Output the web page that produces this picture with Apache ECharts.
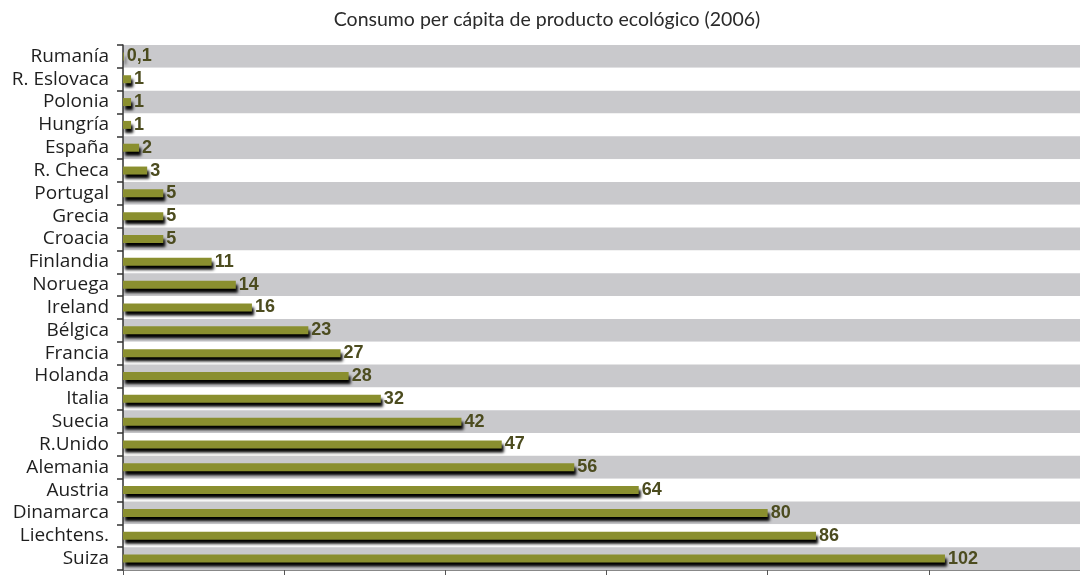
<!DOCTYPE html>
<html>
<head>
<meta charset="utf-8">
<script src="https://cdn.jsdelivr.net/npm/echarts@6/dist/echarts.min.js"></script>
<style>
  html, body { margin: 0; padding: 0; background: #fff; overflow: hidden; }
  /* the plot runs past the right edge so the 120 tick falls off-screen */
  #chart { width: 1090px; height: 575px; }
</style>
</head>
<body>
<div id="chart"></div>
<script>
const countries = [
  'Rumanía', 'R. Eslovaca', 'Polonia', 'Hungría', 'España', 'R. Checa',
  'Portugal', 'Grecia', 'Croacia', 'Finlandia', 'Noruega', 'Ireland',
  'Bélgica', 'Francia', 'Holanda', 'Italia', 'Suecia', 'R.Unido',
  'Alemania', 'Austria', 'Dinamarca', 'Liechtens.', 'Suiza'
]
const consumo = [
  0.1, 1, 1, 1, 2, 3,
  5, 5, 5, 11, 14, 16,
  23, 27, 28, 32, 42, 47,
  56, 64, 80, 86, 102
]
const titleText = 'Consumo per cápita de producto ecológico (2006)'

const chart = echarts.init(document.getElementById('chart'))

chart.setOption({
  backgroundColor: '#fff',
  animation: false,
  title: {
    text: titleText,
    left: 542,
    top: 5,
    textAlign: 'center',
    textStyle: {
      fontFamily: 'Lato',
      fontWeight: 'normal',
      fontSize: 19.5,
      color: '#2a2a2a',
    },
  },
  grid: {
    left: 123,
    right: 0,
    top: 45,
    bottom: 5,
  },
  xAxis: {
    type: 'value',
    min: 0,
    max: 120,
    interval: 20,
    axisLine: { show: true, lineStyle: { color: '#888', width: 1 } },
    axisTick: { show: true, length: 5, lineStyle: { color: '#555' } },
    axisLabel: { show: false },
    splitLine: { show: false },
  },
  yAxis: {
    type: 'category',
    data: countries,
    inverse: true,
    axisLine: { show: true, lineStyle: { color: '#333', width: 1.5 } },
    axisTick: { show: true, interval: 0, length: 6, lineStyle: { color: '#333', width: 1.5 } },
    axisLabel: {
      interval: 0,
      hideOverlap: false,
      margin: 14,
      fontFamily: 'Open Sans',
      fontSize: 19,
      color: '#1e1e1e',
    },
    splitLine: { show: false },
    splitArea: {
      show: true,
      interval: 0,
      areaStyle: { color: ['#c9c9cc', '#ffffff'] },
    },
  },
  series: [
    {
      name: 'Consumo',
      type: 'bar',
      data: consumo,
      barWidth: 8,
      itemStyle: {
        color: '#8a8f2f',
        shadowColor: 'rgba(0,0,0,1)',
        shadowBlur: 3,
        shadowOffsetX: 2,
        shadowOffsetY: 4,
      },
      label: {
        show: true,
        position: 'right',
        distance: 3,
        fontFamily: 'Liberation Sans',
        fontWeight: 'bold',
        fontSize: 18,
        color: '#4c4c1f',
        formatter: (p) => String(p.value).replace('.', ','),
      },
    },
  ],
})
</script>
</body>
</html>
